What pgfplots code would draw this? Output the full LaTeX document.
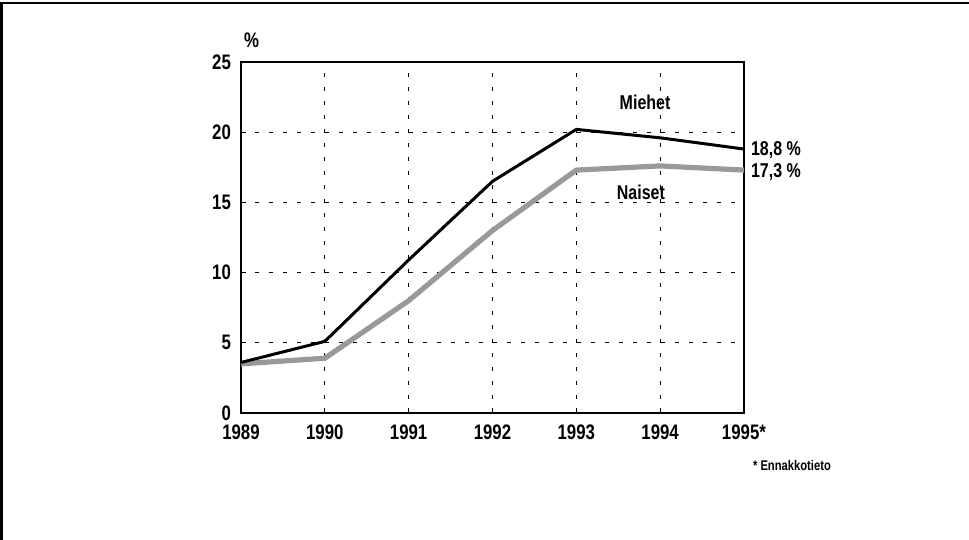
\documentclass[border=0pt]{standalone}
\usepackage{fontspec}
\setmainfont{Liberation Sans}[FakeStretch=0.8]
\usepackage{pgfplots}
\pgfplotsset{compat=1.18}

\pgfplotstableread{
year men women
1989 3.6 3.5
1990 5.1 3.9
1991 10.9 8.0
1992 16.5 13.0
1993 20.2 17.3
1994 19.6 17.6
1995 18.8 17.3
}\datatable

\begin{document}
\begin{tikzpicture}[x=1pt,y=1pt]
% page and frame (1 px = 0.5 pt)
\path[use as bounding box] (0,0) rectangle (484.5,270);
\draw[line width=1.3pt] (0.8,0) -- (0.8,268.4) -- (484.5,268.4);
\begin{axis}[
  at={(120.5pt,63.5pt)}, anchor=south west,
  scale only axis, width=251.5pt, height=175.5pt,
  xmin=1989, xmax=1995, ymin=0, ymax=25,
  xtick={1989,...,1995},
  xticklabels={1989,1990,1991,1992,1993,1994,1995*},
  ytick={0,5,...,25},
  axis line style={line width=0.6pt},
  grid=major,
  grid style={black, line width=0.6pt, dash pattern=on 2pt off 5pt},
  major tick length=2.5pt,
  tick style={black, line width=0.6pt},
  xtick pos=bottom, ytick pos=left,
  tick label style={font=\fontsize{10.5}{12}\selectfont\bfseries},
  /pgf/number format/assume math mode=true,
  xticklabel style={yshift=-2.5pt},
  yticklabel style={xshift=-1.5pt},
  clip=false,
]
\addplot[color=gray!80, line width=2.6pt] table[x=year, y=women] {\datatable};
\addplot[color=black, line width=1.5pt] table[x=year, y=men] {\datatable};
\node[font=\fontsize{10.5}{12}\selectfont\bfseries, anchor=south west] at (rel axis cs:0,1) [xshift=-2pt, yshift=3.5pt] {\%};
\node[font=\fontsize{10}{12}\selectfont\bfseries] at (axis cs:1993.82,22.1) {Miehet};
\node[font=\fontsize{10}{12}\selectfont\bfseries] at (axis cs:1993.77,15.75) {Naiset};
\node[font=\fontsize{10}{12}\selectfont\bfseries, anchor=west] at (axis cs:1995,18.7) {18,8 \%};
\node[font=\fontsize{10}{12}\selectfont\bfseries, anchor=west] at (axis cs:1995,17.15) {17,3 \%};
\node[font=\fontsize{7}{8}\selectfont\bfseries, anchor=north west] at (rel axis cs:1,0) [xshift=1pt, yshift=-20pt] {* Ennakkotieto};
\end{axis}
\end{tikzpicture}
\end{document}
